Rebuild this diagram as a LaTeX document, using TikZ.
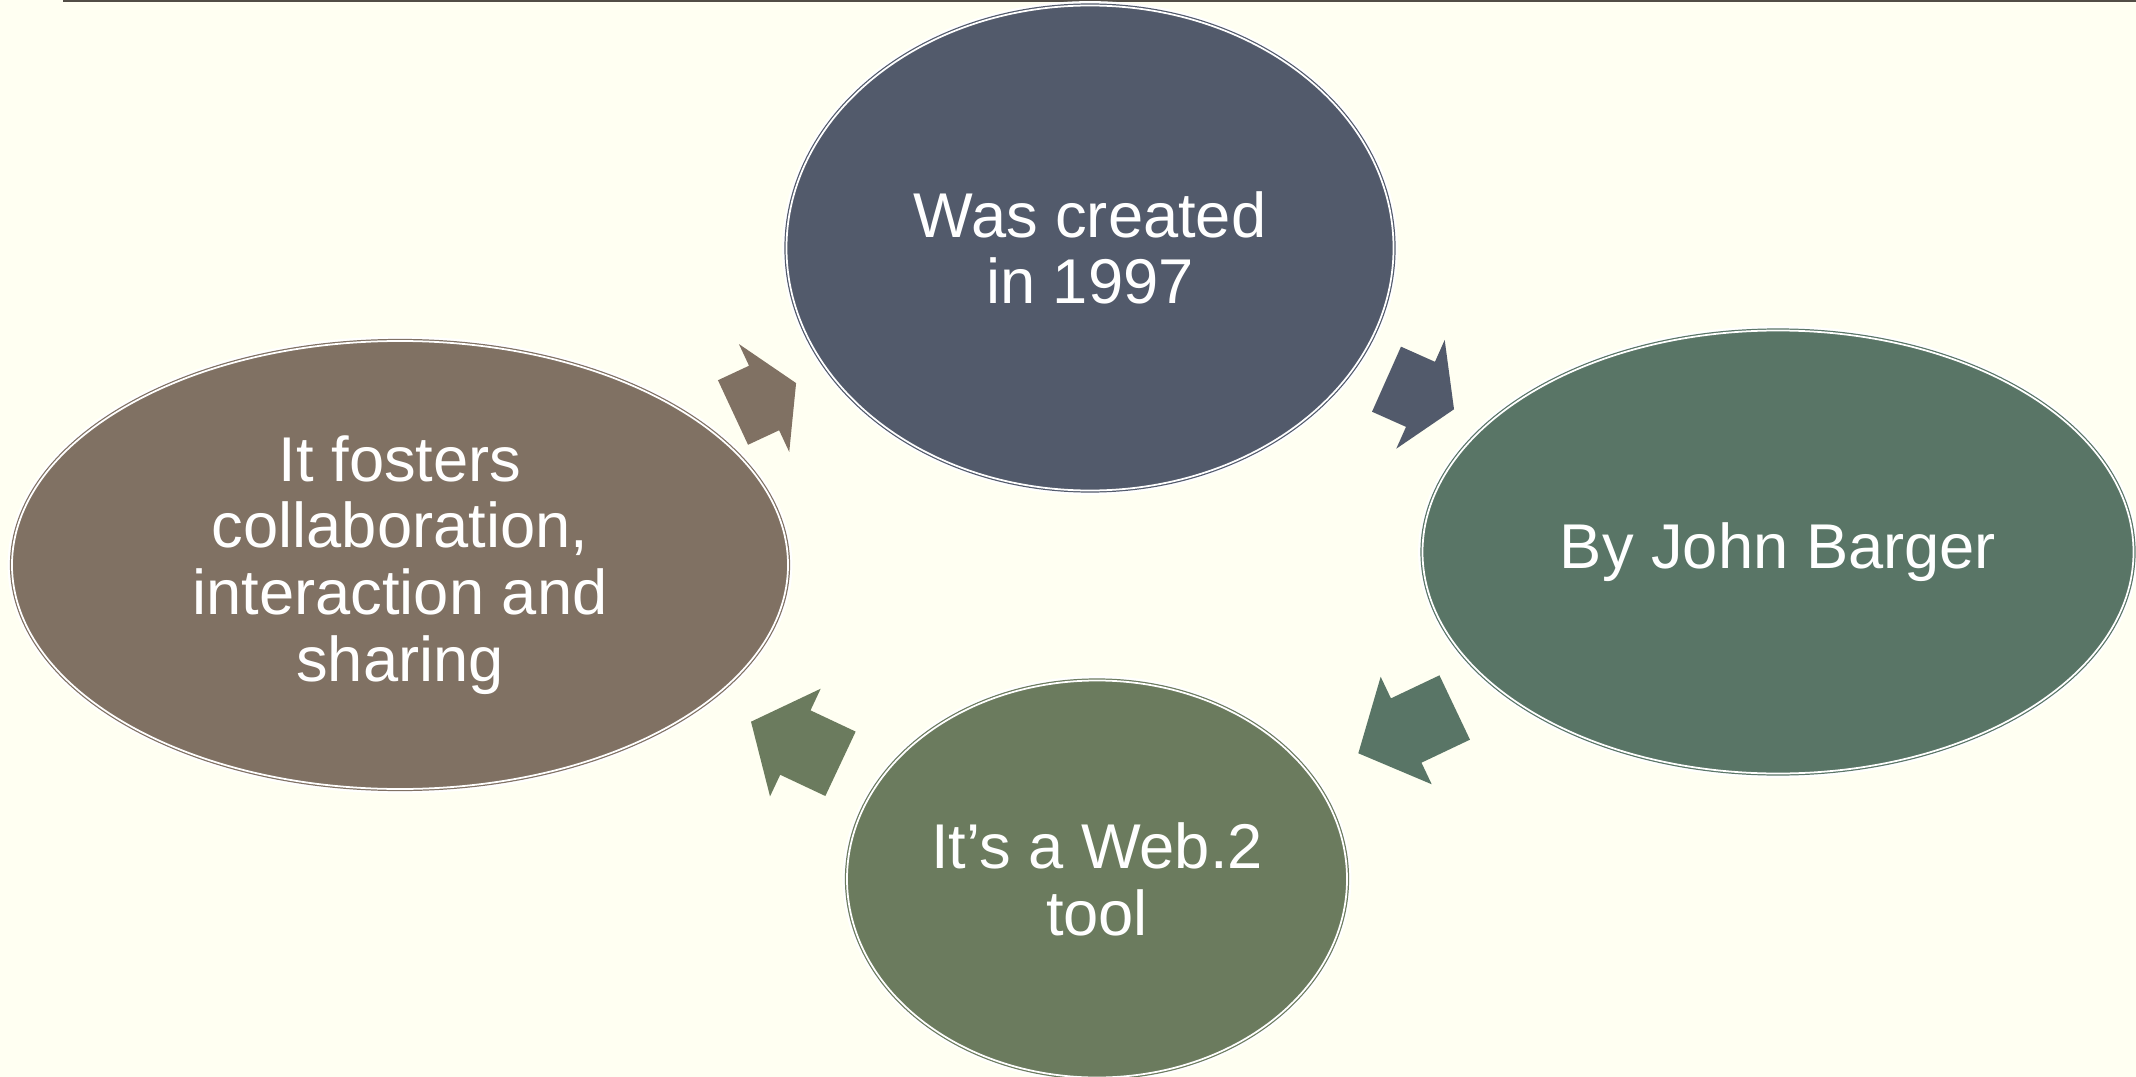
\documentclass[tikz,border=0pt]{standalone}
\usepackage{fontspec}
\setmainfont{Liberation Sans}
\usetikzlibrary{shapes.geometric, positioning}
\definecolor{bgcolor}{RGB}{255,255,242}
\definecolor{rulecolor}{RGB}{82,77,70}
\definecolor{createdcolor}{RGB}{82,90,107}
\definecolor{authorcolor}{RGB}{89,117,102}
\definecolor{toolcolor}{RGB}{107,123,94}
\definecolor{fostercolor}{RGB}{128,113,99}

% block arrow of the cycle: #1 tail, #2 angle, #3 head start, #4 length, #5 colour
\newcommand{\cyclearrow}[5]{%
  \fill[#5, shift={#1}, rotate=#2] (0,0.356) -- (#3,0.356) -- (#3,0.595) -- (#4,0)
    -- (#3,-0.595) -- (#3,-0.356) -- (0,-0.356) -- cycle;}

\begin{document}
\begin{tikzpicture}[
    bubble/.style={ellipse, inner sep=0pt, align=center, text=white,
      font=\fontsize{18}{19}\selectfont,
      preaction={draw=white, line width=2.5pt},
      double=white, double distance=0.5pt, line width=0.35pt}
]
    \useasboundingbox (0,0) rectangle (21.36,-10.77);
    \fill[bgcolor] (0,0) rectangle (21.36,-10.77);
    \draw[rulecolor, line width=0.5pt] (0.63,-0.009) -- (21.36,-0.009);

    \node[bubble, fill=createdcolor, draw=createdcolor, minimum width=6.07cm, minimum height=4.85cm] (created) at (10.90,-2.48) {Was created\\in 1997};
    \node[bubble, fill=authorcolor, draw=authorcolor, minimum width=7.11cm, minimum height=4.43cm] (author) at (17.78,-5.52) {By John Barger};
    \node[bubble, fill=toolcolor, draw=toolcolor, minimum width=5.00cm, minimum height=3.97cm] (tool) at (10.97,-8.79) {It’s a Web.2\\tool};
    \node[bubble, fill=fostercolor, draw=fostercolor, minimum width=7.76cm, minimum height=4.48cm] (foster) at (4.00,-5.65) {It fosters\\collaboration,\\interaction and\\sharing};

    \cyclearrow{(7.33,-4.125)}{25}{0.343}{0.696}{fostercolor}
    \cyclearrow{(13.865,-3.792)}{-24}{0.372}{0.739}{createdcolor}
    \cyclearrow{(14.547,-7.075)}{205.4}{0.537}{1.067}{authorcolor}
    \cyclearrow{(8.405,-7.638)}{154.8}{0.499}{0.989}{toolcolor}
\end{tikzpicture}
\end{document}
